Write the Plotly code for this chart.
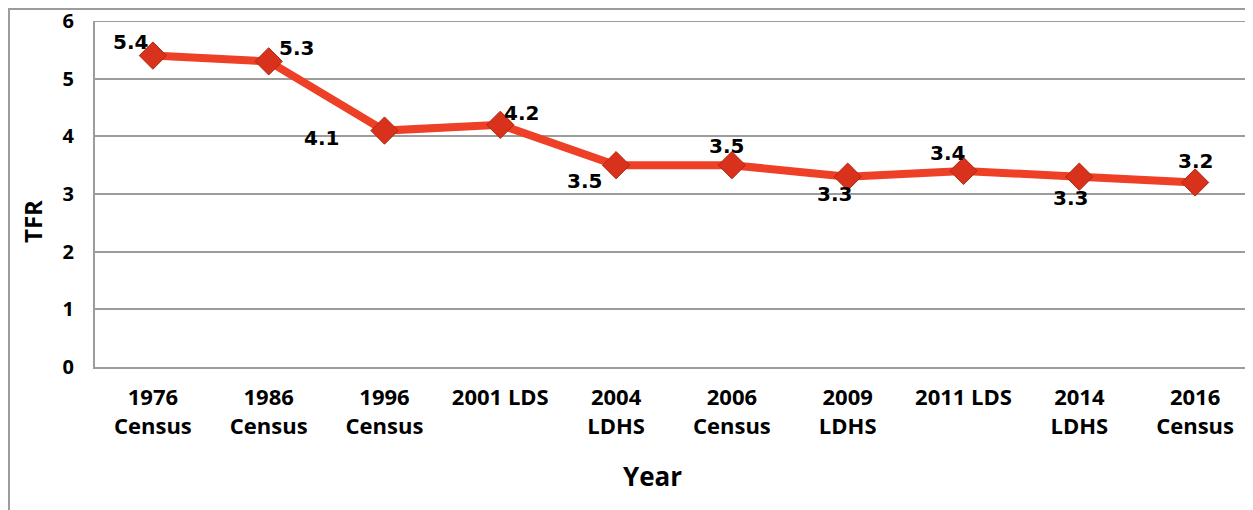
import plotly.graph_objects as go

categories = ["1976<br>Census", "1986<br>Census", "1996<br>Census", "2001 LDS", "2004<br>LDHS",
              "2006<br>Census", "2009<br>LDHS", "2011 LDS", "2014<br>LDHS", "2016<br>Census"]
tfr = [5.4, 5.3, 4.1, 4.2, 3.5, 3.5, 3.3, 3.4, 3.3, 3.2]
label_dx = [-22, 28, -63, 21, -32, -5, -13, -16, -9, 0]
label_dy = [14, 13, -7, 12, -16, 19, -17, 18, -21, 21]

LINE = "#EE4027"
GRID = "#9c9c9c"
FONT = "Open Sans"

L, R, T, B = 87, 0, 13, 143
W, H = 1245, 502
PW, PH = W - L - R, H - T - B

fig = go.Figure()
fig.add_trace(go.Scatter(
    x=categories, y=tfr, mode="lines+markers",
    line=dict(color=LINE, width=8),
    marker=dict(symbol="diamond", size=21, color="#D8311C",
                line=dict(color="#B02812", width=1)),
    showlegend=False, hoverinfo="skip", cliponaxis=False,
))

for c, v, dx, dy in zip(categories, tfr, label_dx, label_dy):
    fig.add_annotation(x=c, y=v, xref="x", yref="y", text=f"{v}", showarrow=False,
                       xshift=dx, yshift=dy, xanchor="center", yanchor="middle",
                       font=dict(family="DejaVu Sans", size=20, color="#000", weight="bold"))

fig.add_annotation(x=(652 - 8 - L) / PW, y=-(476 - 367) / PH, xref="paper", yref="paper",
                   text="Year", showarrow=False, xanchor="center", yanchor="middle",
                   font=dict(family=FONT, size=26, color="#000", weight="bold"))
fig.add_annotation(x=(32 - 8 - L) / PW, y=0.5 - 28 / PH, xref="paper", yref="paper",
                   text="TFR", showarrow=False, textangle=-90,
                   xanchor="center", yanchor="middle",
                   font=dict(family=FONT, size=24, color="#000", weight="bold"))

# outer frame
fig.add_shape(type="rect", xref="paper", yref="paper",
              x0=(1 - L) / PW, x1=1.2, y0=-0.6, y1=1 + (T - 1) / PH,
              line=dict(color=GRID, width=2), layer="below")
# top gridline (at the edge of the plotting area)
fig.add_shape(type="line", xref="paper", yref="y", x0=0, x1=1, y0=6, y1=6,
              line=dict(color=GRID, width=2), layer="below")

fig.update_layout(
    width=W, height=H,
    margin=dict(l=L, r=R, t=T, b=B, autoexpand=False),
    paper_bgcolor="white", plot_bgcolor="white",
    font=dict(family=FONT, color="#000"),
)
fig.update_xaxes(
    type="category", range=[-0.5, 9.5], automargin=False,
    showgrid=False, showline=True, linecolor=GRID, linewidth=2,
    ticks="", ticklabelstandoff=10,
    tickfont=dict(family=FONT, size=22, color="#000", weight="bold"),
)
fig.update_yaxes(
    range=[0, 6], dtick=1, automargin=False,
    showgrid=True, gridcolor=GRID, gridwidth=2,
    showline=True, linecolor=GRID, linewidth=2,
    zeroline=False, ticks="", ticklabelstandoff=15, ticklabeloverflow="allow",
    tickfont=dict(family=FONT, size=20, color="#000", weight="bold"),
)

fig.write_html("out.html")
